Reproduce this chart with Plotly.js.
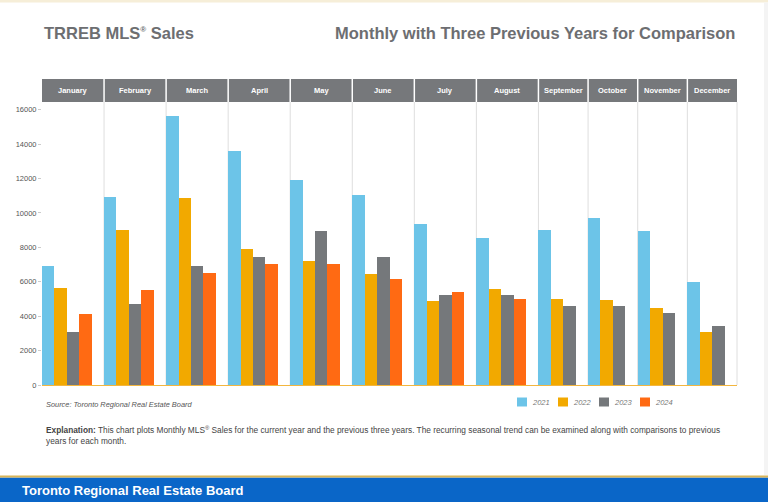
<!DOCTYPE html>
<html>
<head>
<meta charset="utf-8">
<script src="https://cdn.plot.ly/plotly-3.0.1.min.js"></script>
<style>
html,body{margin:0;padding:0;background:#ffffff;}
#chart{width:768px;height:502px;}
</style>
</head>
<body>
<div id="chart"></div>
<script>
// ---- data ----
const months = ["January","February","March","April","May","June","July","August","September","October","November","December"];
const years = ["2021","2022","2023","2024"];
const sales2021 = [6890, 10900, 15660, 13590, 11920, 11030, 9350, 8570, 9000, 9730, 8960, 5980];
const sales2022 = [5610, 9000, 10860, 7880, 7220, 6440, 4880, 5590, 4990, 4940, 4490, 3080];
const sales2023 = [3080, 4700, 6890, 7450, 8940, 7450, 5210, 5260, 4590, 4590, 4160, 3430];
const sales2024 = [4140, 5550, 6500, 7060, 7010, 6170, 5400, 4990, null, null, null, null];
const yTicks = [0, 2000, 4000, 6000, 8000, 10000, 12000, 14000, 16000];

// ---- styles ----
const seriesColors = ["#6CC4E8", "#F2A900", "#75787B", "#FF6A13"];
const FONT = "Liberation Sans, Arial, Helvetica, sans-serif";
const W = 768, H = 502, ML = 42, MR = 31, MT = 102, MB = 117;
const PW = W - ML - MR, PH = H - MT - MB;
const px2x = p => (p - ML) / PW;
const px2y = p => (H - MB - p) / PH;

const series = [sales2021, sales2022, sales2023, sales2024];

// category slots: one per bar, plus one empty slot closing each month
const cats = [], monthStart = [], monthEnd = [];
months.forEach((m, i) => {
  monthStart.push(cats.length - 0.5);
  series.forEach((s, j) => { if (s[i] != null) cats.push(m + " " + years[j]); });
  cats.push(m + " ");
  monthEnd.push(cats.length - 0.5);
});
const N = cats.length;
const idx2paper = v => (v + 0.5) / N;

const traces = series.map((s, j) => {
  const x = [], y = [];
  months.forEach((m, i) => { if (s[i] != null) { x.push(m + " " + years[j]); y.push(s[i]); } });
  return {
    type: "bar", name: years[j], x: x, y: y, width: 1,
    marker: {color: seriesColors[j], line: {width: 0}},
    showlegend: false,
    hovertemplate: "%{x}: %{y}<extra></extra>"
  };
});

const shapes = [];
const annotations = [];
const headerTop = 1 + 23 / PH;

// page decorations
shapes.push({type: "rect", xref: "paper", yref: "paper", x0: px2x(0), x1: px2x(W), y0: px2y(0), y1: px2y(2.5), fillcolor: "#f6eed8", line: {width: 0}});
shapes.push({type: "rect", xref: "paper", yref: "paper", x0: px2x(764), x1: px2x(W), y0: px2y(475), y1: px2y(2.5), fillcolor: "#f4f4f4", line: {width: 0}});

// vertical separators in plot area
monthEnd.forEach(e => {
  shapes.push({type: "line", xref: "paper", yref: "paper", x0: idx2paper(e), x1: idx2paper(e), y0: 0, y1: 1, line: {color: "#dedede", width: 1}, layer: "below"});
});
// header band
shapes.push({type: "rect", xref: "paper", yref: "paper", x0: 0, x1: 1, y0: 1, y1: headerTop, fillcolor: "#76787B", line: {width: 0}});
monthEnd.slice(0, -1).forEach(e => {
  shapes.push({type: "line", xref: "paper", yref: "paper", x0: idx2paper(e), x1: idx2paper(e), y0: 1, y1: headerTop, line: {color: "#ffffff", width: 1.5}});
});
months.forEach((m, i) => {
  annotations.push({xref: "paper", yref: "paper", x: idx2paper((monthStart[i] + monthEnd[i]) / 2), y: 1 + 11.5 / PH,
    text: "<b>" + m + "</b>", showarrow: false, xanchor: "center", yanchor: "middle",
    font: {family: FONT, size: 7.5, color: "#ffffff"}});
});

// titles
annotations.push({xref: "paper", yref: "paper", x: px2x(42), y: px2y(33), xanchor: "left", yanchor: "middle", showarrow: false,
  text: "<b>TRREB MLS<sup><span style=\"font-size:8px\">®</span></sup> Sales</b>", font: {family: FONT, size: 16.5, color: "#6D6E71"}});
annotations.push({xref: "paper", yref: "paper", x: px2x(737), y: px2y(33), xanchor: "right", yanchor: "middle", showarrow: false,
  text: "<b>Monthly with Three Previous Years for Comparison</b>", font: {family: FONT, size: 16.5, color: "#6D6E71"}});

// source
annotations.push({xref: "paper", yref: "paper", x: px2x(44), y: px2y(404), xanchor: "left", yanchor: "middle", showarrow: false,
  text: "<i>Source: Toronto Regional Real Estate Board</i>", font: {family: FONT, size: 7.4, color: "#555555"}});

// custom legend
years.forEach((yr, j) => {
  const x0 = 517 + j * 41;
  shapes.push({type: "rect", xref: "paper", yref: "paper", x0: px2x(x0), x1: px2x(x0 + 10), y0: px2y(406.5), y1: px2y(397.5), fillcolor: seriesColors[j], line: {width: 0}});
  annotations.push({xref: "paper", yref: "paper", x: px2x(x0 + 13), y: px2y(402), xanchor: "left", yanchor: "middle", showarrow: false,
    text: "<i>" + yr + "</i>", font: {family: FONT, size: 7.5, color: "#777777"}});
});

// explanation
annotations.push({xref: "paper", yref: "paper", x: px2x(44), y: px2y(435), xanchor: "left", yanchor: "middle", align: "left", showarrow: false,
  text: "<b>Explanation:</b> This chart plots Monthly MLS<sup>®</sup> Sales for the current year and the previous three years. The recurring seasonal trend can be examined along with comparisons to previous<br>years for each month.",
  font: {family: FONT, size: 8.3, color: "#444444"}});

// footer
shapes.push({type: "rect", xref: "paper", yref: "paper", x0: px2x(0), x1: px2x(W), y0: px2y(502), y1: px2y(477.5), fillcolor: "#0A66C8", line: {width: 0}});
shapes.push({type: "line", xref: "paper", yref: "paper", x0: px2x(0), x1: px2x(W), y0: px2y(476.5), y1: px2y(476.5), line: {color: "#D8B457", width: 2}});
annotations.push({xref: "paper", yref: "paper", x: px2x(20), y: px2y(490), xanchor: "left", yanchor: "middle", showarrow: false,
  text: "<b>Toronto Regional Real Estate Board</b>", font: {family: FONT, size: 13, color: "#ffffff"}});

const layout = {
  width: W, height: H,
  margin: {l: ML, r: MR, t: MT, b: MB, pad: 0},
  paper_bgcolor: "#ffffff", plot_bgcolor: "#ffffff",
  font: {family: FONT, color: "#555555"},
  barmode: "overlay", bargap: 0,
  showlegend: false,
  xaxis: {type: "category", categoryorder: "array", categoryarray: cats, range: [-0.5, N - 0.5],
    showticklabels: false, ticks: "", showgrid: false, zeroline: false,
    showline: true, linecolor: "#F3B63F", linewidth: 1, fixedrange: true},
  yaxis: {range: [0, 16450], tickmode: "array", tickvals: yTicks, ticktext: yTicks.map(String),
    showgrid: false, zeroline: false, showline: false,
    ticks: "outside", ticklen: 3, tickcolor: "#cccccc", tickwidth: 1,
    tickfont: {family: FONT, size: 7.5, color: "#555555"}, fixedrange: true},
  shapes: shapes,
  annotations: annotations
};

Plotly.newPlot("chart", traces, layout, {displayModeBar: false});
</script>
</body>
</html>
